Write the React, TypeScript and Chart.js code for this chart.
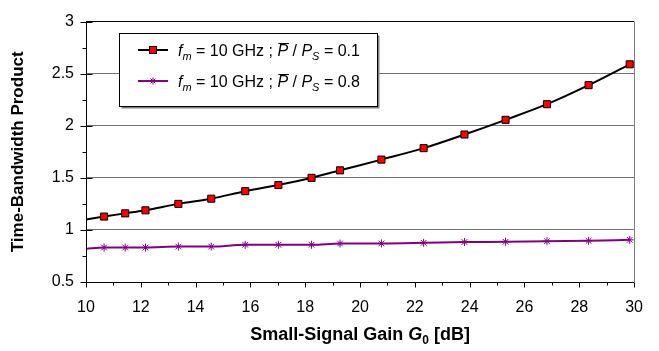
import React, { useEffect, useRef } from "react";
import { Chart, registerables } from "chart.js";
Chart.register(...registerables);

const xTicks = [10, 12, 14, 16, 18, 20, 22, 24, 26, 28, 30];
const yTicks = [0.5, 1, 1.5, 2, 2.5, 3];
const gainDb = [10, 10.66, 11.43, 12.17, 13.37, 14.57, 15.81, 17.02, 18.23, 19.27, 20.78, 22.32, 23.81, 25.31, 26.82, 28.34, 29.84];
const tbpLowPower = [1.10, 1.128, 1.159, 1.188, 1.25, 1.30, 1.372, 1.431, 1.50, 1.572, 1.675, 1.785, 1.916, 2.057, 2.207, 2.39, 2.59];
const tbpHighPower = [0.82, 0.831, 0.831, 0.831, 0.84, 0.84, 0.857, 0.857, 0.857, 0.869, 0.87, 0.876, 0.884, 0.886, 0.892, 0.895, 0.905];
const legendRatios = ["0.1", "0.8"];
const seriesColors = ["#000000", "#800080"];
const xTitle = "Small-Signal Gain ";
const yTitle = "Time-Bandwidth Product";

const FONT = "Arial, 'Liberation Sans', sans-serif";

type Seg = { t: string; f: string; dy?: number; over?: boolean };

function segWidth(ctx: CanvasRenderingContext2D, segs: Seg[]) {
  let w = 0;
  for (const s of segs) {
    ctx.font = s.f;
    w += ctx.measureText(s.t).width;
  }
  return w;
}

function drawSegs(ctx: CanvasRenderingContext2D, segs: Seg[], x: number, y: number) {
  let cx = x;
  for (const s of segs) {
    ctx.font = s.f;
    const w = ctx.measureText(s.t).width;
    ctx.fillText(s.t, cx, y + (s.dy || 0));
    if (s.over) {
      ctx.beginPath();
      ctx.lineWidth = 1;
      ctx.moveTo(cx + 1, y - 12.5);
      ctx.lineTo(cx + w + 1, y - 12.5);
      ctx.stroke();
    }
    cx += w;
  }
}

const overlay = {
  id: "overlay",
  afterDraw(chart: any) {
    const ctx: CanvasRenderingContext2D = chart.ctx;
    const { left, right, top, bottom } = chart.chartArea;
    const xs = chart.scales.x;
    const ys = chart.scales.y;
    ctx.save();
    ctx.strokeStyle = "#808080";
    ctx.lineWidth = 1;
    ctx.beginPath();
    ctx.moveTo(Math.round(right) + 0.5, top);
    ctx.lineTo(Math.round(right) + 0.5, bottom);
    ctx.stroke();
    ctx.strokeStyle = "#000";
    ctx.beginPath();
    const lx = Math.round(left) + 0.5;
    const by = Math.round(bottom) + 0.5;
    ctx.moveTo(lx, top);
    ctx.lineTo(lx, by);
    ctx.lineTo(right, by);
    for (let v = 0.5; v <= 3.001; v += 0.25) {
      const py = Math.round(ys.getPixelForValue(v)) + 0.5;
      const major = Math.abs(v * 2 - Math.round(v * 2)) < 1e-6;
      ctx.moveTo(lx - (major ? 6 : 4), py);
      ctx.lineTo(lx + (major ? 6 : 0), py);
    }
    for (let v = 10; v <= 30; v += 1) {
      const px = Math.round(xs.getPixelForValue(v)) + 0.5;
      const major = v % 2 === 0;
      ctx.moveTo(px, by);
      ctx.lineTo(px, by + (major ? 5 : 3));
    }
    ctx.stroke();

    ctx.fillStyle = "#000";
    ctx.textBaseline = "alphabetic";
    const xSegs: Seg[] = [
      { t: xTitle, f: `bold 18px ${FONT}` },
      { t: "G", f: `italic bold 18px ${FONT}` },
      { t: "0", f: `bold 12px ${FONT}`, dy: 4 },
      { t: " [dB]", f: `bold 18px ${FONT}` },
    ];
    const xw = segWidth(ctx, xSegs);
    drawSegs(ctx, xSegs, (left + right) / 2 - xw / 2, 340);
    ctx.save();
    ctx.translate(18, (top + bottom) / 2);
    ctx.rotate(-Math.PI / 2);
    ctx.font = `bold 17px ${FONT}`;
    ctx.textAlign = "center";
    ctx.textBaseline = "middle";
    ctx.fillText(yTitle, 0, 0);
    ctx.restore();

    const bx = 119.5, byy = 33.5, bw = 258, bh = 73;
    ctx.fillStyle = "#808080";
    ctx.fillRect(bx + 2, byy + 2, bw, bh);
    ctx.fillStyle = "#fff";
    ctx.fillRect(bx, byy, bw, bh);
    ctx.strokeStyle = "#000";
    ctx.lineWidth = 1;
    ctx.strokeRect(bx, byy, bw, bh);
    const rows = [50, 81];
    rows.forEach((ry, i) => {
      ctx.strokeStyle = seriesColors[i];
      ctx.lineWidth = 2;
      ctx.beginPath();
      ctx.moveTo(138, ry);
      ctx.lineTo(168, ry);
      ctx.stroke();
      if (i === 0) {
        ctx.fillStyle = "#ff0000";
        ctx.fillRect(149.5, ry - 3.5, 7, 7);
        ctx.strokeStyle = "#000";
        ctx.lineWidth = 1;
        ctx.strokeRect(149.5, ry - 3.5, 7, 7);
      } else {
        ctx.strokeStyle = "#800080";
        ctx.lineWidth = 1;
        ctx.beginPath();
        const r = 3.5, cx = 153, cy = ry;
        ctx.moveTo(cx - r, cy); ctx.lineTo(cx + r, cy);
        ctx.moveTo(cx, cy - r); ctx.lineTo(cx, cy + r);
        ctx.moveTo(cx - r * 0.7, cy - r * 0.7); ctx.lineTo(cx + r * 0.7, cy + r * 0.7);
        ctx.moveTo(cx - r * 0.7, cy + r * 0.7); ctx.lineTo(cx + r * 0.7, cy - r * 0.7);
        ctx.stroke();
      }
      ctx.fillStyle = "#000";
      ctx.strokeStyle = "#000";
      const segs: Seg[] = [
        { t: "f", f: `italic 16px ${FONT}` },
        { t: "m", f: `italic 11px ${FONT}`, dy: 4 },
        { t: " = 10 GHz ; ", f: `16px ${FONT}` },
        { t: "P", f: `italic 16px ${FONT}`, over: true },
        { t: " / ", f: `16px ${FONT}` },
        { t: "P", f: `italic 16px ${FONT}` },
        { t: "S", f: `italic 11px ${FONT}`, dy: 4 },
        { t: " = " + legendRatios[i], f: `16px ${FONT}` },
      ];
      drawSegs(ctx, segs, 178, ry + 6);
    });
    ctx.restore();
  },
};

export default function App() {
  const ref = useRef<HTMLCanvasElement>(null);
  useEffect(() => {
    document.body.style.margin = "0";
    const radii = gainDb.map((_, i) => (i === 0 ? 0 : 5));
    const radiiStar = gainDb.map((_, i) => (i === 0 ? 0 : 4));
    const chart = new Chart(ref.current!, {
      type: "line",
      data: {
        datasets: [
          {
            data: gainDb.map((x, i) => ({ x, y: tbpLowPower[i] })),
            borderColor: seriesColors[0],
            borderWidth: 2,
            pointStyle: "rect",
            pointRadius: radii,
            pointBackgroundColor: "#ff0000",
            pointBorderColor: "#000",
            pointBorderWidth: 1,
            cubicInterpolationMode: "monotone",
          },
          {
            data: gainDb.map((x, i) => ({ x, y: tbpHighPower[i] })),
            borderColor: seriesColors[1],
            borderWidth: 2,
            pointStyle: "star",
            pointRadius: radiiStar,
            pointBackgroundColor: "#800080",
            pointBorderColor: "#800080",
            pointBorderWidth: 1,
            cubicInterpolationMode: "monotone",
          },
        ],
      },
      options: {
        animation: false,
        responsive: true,
        maintainAspectRatio: false,
        layout: { padding: { left: 0, right: 9, top: 16, bottom: 0 } },
        plugins: { legend: { display: false }, tooltip: { enabled: false } },
        scales: {
          x: {
            type: "linear",
            min: 10,
            max: 30,
            afterBuildTicks: (s: any) => {
              s.ticks = xTicks.map((v) => ({ value: v }));
            },
            afterFit: (s: any) => {
              s.height = 69;
            },
            grid: { display: false, drawTicks: false },
            border: { display: false },
            ticks: {
              color: "#000",
              font: { family: FONT, size: 16 },
              padding: 16,
              maxRotation: 0,
              callback: (v: any) => String(v),
            },
          },
          y: {
            type: "linear",
            min: 0.5,
            max: 3,
            afterBuildTicks: (s: any) => {
              s.ticks = yTicks.map((v) => ({ value: v }));
            },
            afterFit: (s: any) => {
              s.width = 86;
            },
            grid: {
              drawTicks: false,
              color: (c: any) => (c.tick && c.tick.value === 3 ? "#000" : "#707070"),
              lineWidth: 1,
            },
            border: { display: false },
            ticks: {
              color: "#000",
              font: { family: FONT, size: 16 },
              padding: 12,
              callback: (v: any) => String(v),
            },
          },
        },
      },
      plugins: [overlay],
    });
    return () => chart.destroy();
  }, []);
  return (
    <div style={{ width: 659, height: 351, position: "relative" }}>
      <canvas ref={ref} />
    </div>
  );
}
